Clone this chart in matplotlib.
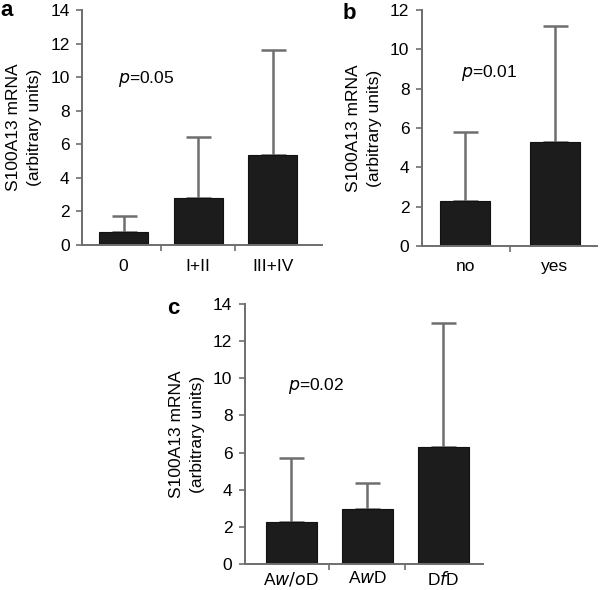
import matplotlib
matplotlib.use('Agg')
import matplotlib.pyplot as plt

plt.rcParams['font.family'] = ['Liberation Sans', 'DejaVu Sans']

# panel a: stage
a_labels = ['0', 'I+II', 'III+IV']
a_means = [0.75, 2.8, 5.35]
a_upper = [1.0, 3.65, 6.3]

# panel b: no / yes
b_labels = ['no', 'yes']
b_means = [2.3, 5.3]
b_upper = [3.5, 5.9]

# panel c: groups
c_labels = ['A$\\it{w/o}$D', 'A$\\it{w}$D', 'D$\\it{f}$D']
c_means = [2.25, 2.95, 6.3]
c_upper = [3.45, 1.4, 6.7]

bar_color = '#1c1c1c'
axis_color = '#6e6e6e'
ylab = 'S100A13 mRNA\n(arbitrary units)'

fig = plt.figure(figsize=(6.0, 5.9), dpi=100)


def draw_panel(rect, labels, means, upper, ymax, ystep, xlim, width, ptext, pxy, letter, letter_xy, xpad):
    ax = fig.add_axes(rect)
    x = list(range(len(labels)))
    ax.bar(x, means, width=width, color=bar_color, edgecolor='#111111', linewidth=0.8, zorder=2)
    ax.errorbar(x, means, yerr=[[0] * len(means), upper], fmt='none', ecolor=axis_color,
                elinewidth=1.8, capsize=9, capthick=1.8, zorder=1)
    ax.set_ylim(0, ymax)
    ax.set_xlim(*xlim)
    ax.set_yticks(range(0, ymax + 1, ystep))
    ax.set_xticks([i + 0.5 for i in x[:-1]])
    ax.set_xticklabels([])
    ax.set_xticks(x, minor=True)
    ax.set_xticklabels(labels, minor=True, fontsize=12.5)
    ax.tick_params(axis='x', which='minor', length=0, pad=xpad)
    ax.tick_params(axis='x', which='major', direction='out', length=4, color=axis_color, width=1.2)
    ax.tick_params(axis='y', direction='out', length=4, color=axis_color, width=1.2, labelsize=12.5, pad=5)
    for s in ['top', 'right']:
        ax.spines[s].set_visible(False)
    for s in ['left', 'bottom']:
        ax.spines[s].set_color(axis_color)
        ax.spines[s].set_linewidth(1.4)
    ax.set_ylabel(ylab, fontsize=12.5, linespacing=1.45, labelpad=6)
    ax.text(pxy[0], pxy[1], '$\\it{p}$=' + ptext, transform=ax.transData, fontsize=12.5, va='center')
    fig.text(letter_xy[0], letter_xy[1], letter, fontsize=16, fontweight='bold', va='top', ha='left')
    return ax


draw_panel([0.1367, 0.5847, 0.4, 0.398], a_labels, a_means, a_upper, 14, 2,
           (-0.557, 2.66), 0.66, '0.05', (-0.07, 9.9), 'a', (0.0, 1.0), 10)
draw_panel([0.7033, 0.583, 0.2917, 0.4], b_labels, b_means, b_upper, 12, 2,
           (-0.48, 1.47), 0.56, '0.01', (-0.05, 8.8), 'b', (0.571, 0.995), 9)
draw_panel([0.4083, 0.0441, 0.3967, 0.4407], c_labels, c_means, c_upper, 14, 2,
           (-0.61, 2.52), 0.67, '0.02', (-0.05, 9.6), 'c', (0.278, 0.495), 4)

fig.savefig('out.png', dpi=100)
